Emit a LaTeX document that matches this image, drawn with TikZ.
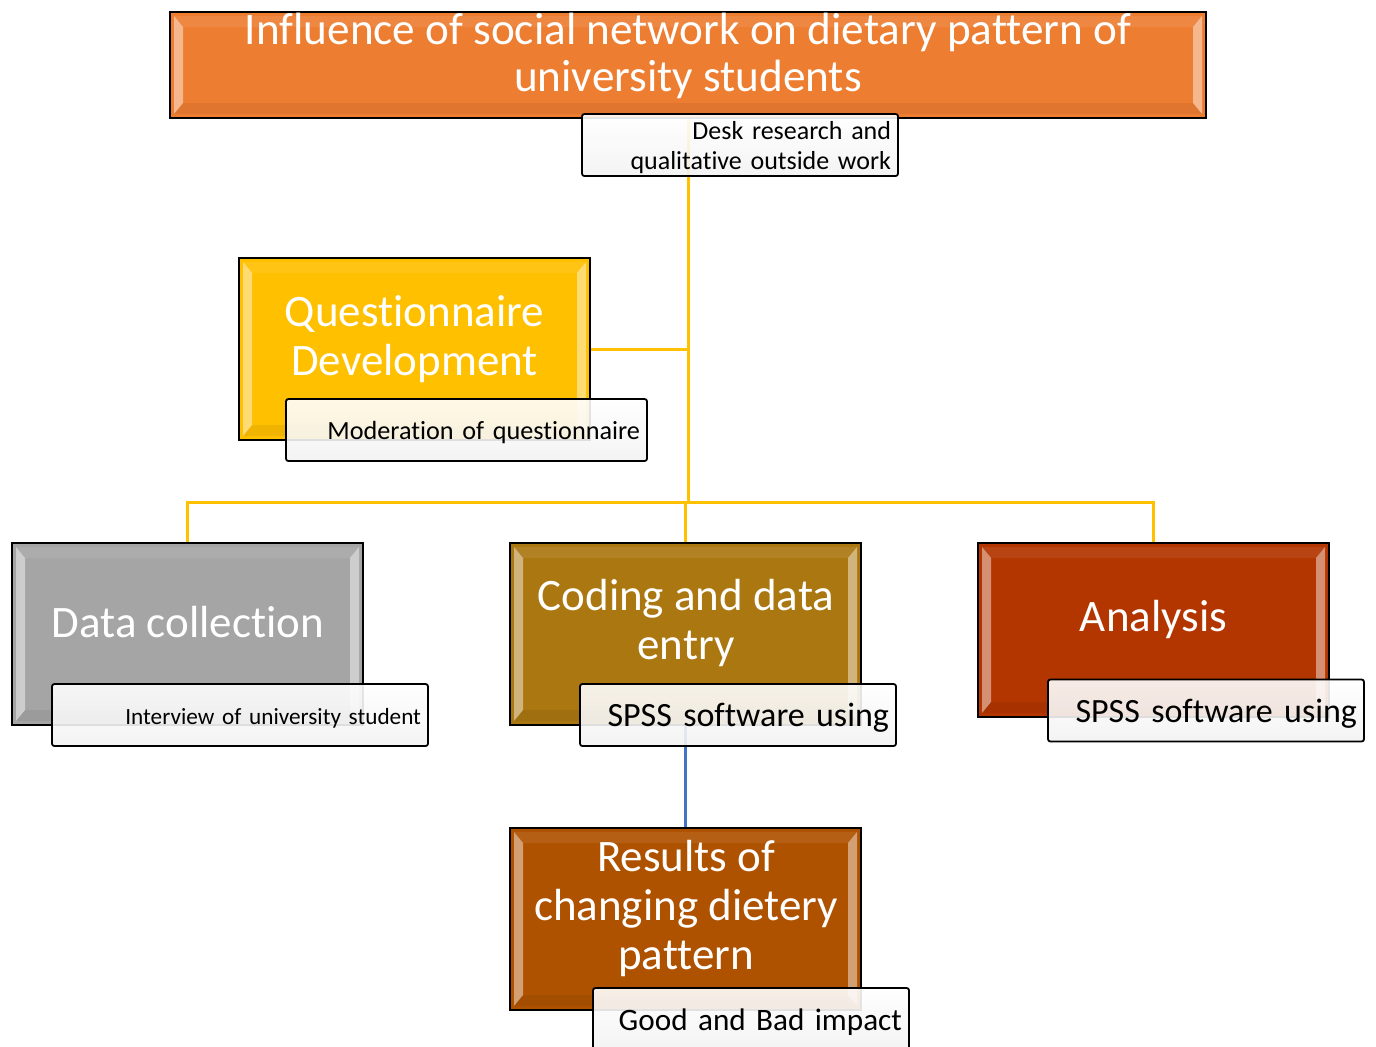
\documentclass[tikz,border=0pt]{standalone}
\usepackage{fontspec}
\setmainfont{Carlito}[Ligatures={NoCommon}]
\usetikzlibrary{calc}
\definecolor{cOrange}{HTML}{ED7D31}
\definecolor{cGold}{HTML}{FFC000}
\definecolor{cGray}{HTML}{A5A5A5}
\definecolor{cCoding}{HTML}{AB7711}
\definecolor{cAnalysis}{HTML}{B33500}
\definecolor{cResults}{HTML}{AE5200}
\definecolor{cBlue}{HTML}{4472C4}
\newcommand\lowr[1]{\raisebox{-1.5pt}[\height][\depth]{#1}}
\tikzset{
  bevel/.style={path picture={
    \fill[white,opacity=0.45]
      ($(path picture bounding box.north west)+(4,4)$) -- ($(path picture bounding box.north west)+(13,15)$)
      -- ($(path picture bounding box.south west)+(13,-15)$) -- ($(path picture bounding box.south west)+(4,-4)$) -- cycle;
    \fill[white,opacity=0.45]
      ($(path picture bounding box.north east)+(-4,4)$) -- ($(path picture bounding box.north east)+(-13,15)$)
      -- ($(path picture bounding box.south east)+(-13,-15)$) -- ($(path picture bounding box.south east)+(-4,-4)$) -- cycle;
    \fill[white,opacity=0.08]
      ($(path picture bounding box.north west)+(4,4)$) -- ($(path picture bounding box.north east)+(-4,4)$)
      -- ($(path picture bounding box.north east)+(-13,15)$) -- ($(path picture bounding box.north west)+(13,15)$) -- cycle;
    \fill[black,opacity=0.06]
      ($(path picture bounding box.south west)+(4,-4)$) -- ($(path picture bounding box.south east)+(-4,-4)$)
      -- ($(path picture bounding box.south east)+(-13,-15)$) -- ($(path picture bounding box.south west)+(13,-15)$) -- cycle;
  }},
  mainbox/.style={draw=black, line width=0.8pt, fill=#1, bevel, inner sep=0pt},
  boxtext/.style={text=white, align=center, font=\fontsize{22.5}{24.5}\selectfont, inner sep=0pt},
  lab/.style={draw=black, line width=0.9pt, rounded corners=1.2pt, top color=white, bottom color=black!5,
    fill opacity=0.9, text opacity=1, align=right, text width=#1, inner xsep=3.5pt, inner ysep=0pt, minimum height=31pt},
  conn/.style={draw=cGold, line width=1.5pt},
  bconn/.style={draw=cBlue, line width=1.2pt},
}
\begin{document}
\begin{tikzpicture}[x=0.5pt,y=-0.5pt]
\useasboundingbox (0,0) rectangle (1376,1046);
% main boxes
\node[mainbox=cOrange, minimum width=518pt, minimum height=53pt] (title) at (688,65) {};
\node[boxtext, font=\fontsize{22.6}{23.5}\selectfont] (titlet) at (688,56) {Influence of social network on dietary pattern of\\university students};
\node[mainbox=cGold, minimum width=175.5pt, minimum height=91pt] (quest) at (414.5,349) {};
\node[boxtext] (questt) at (414.5,339) {Questionnaire\\Development};
\node[mainbox=cGray, minimum width=175.5pt, minimum height=91pt] (datac) at (187.5,634) {};
\node[boxtext] (datact) at (188,622) {Data collection};
\node[mainbox=cCoding, minimum width=175.5pt, minimum height=91pt] (coding) at (685.5,634) {};
\node[boxtext] (codingt) at (686,623) {Coding and data\\entry};
\node[mainbox=cAnalysis, minimum width=175.5pt, minimum height=87pt] (analysis) at (1153.5,630) {};
\node[boxtext] (analysist) at (1153.5,619) {Analysis};
\node[mainbox=cResults, minimum width=175.5pt, minimum height=91pt] (results) at (685.5,919) {};
\node[boxtext] (resultst) at (686,908) {Results of\\changing dietery\\pattern};
% connectors
\coordinate (hub) at (688,502);
\draw[conn] (title.south) -- (hub);
\draw[conn] (quest.east) -- (quest.east -| hub);
\draw[conn] (datac.north) |- (analysis.north |- hub) -- (analysis.north);
\draw[conn] (coding.north |- hub) -- (coding.north);
\draw[bconn] (coding.south) -- (results.north);
% labels
\node[lab=151pt, font=\fontsize{13}{15}\selectfont] (desk) at (740,145) {\lowr{Desk research and}\\\lowr{qualitative outside work}};
\node[lab=173.5pt, font=\fontsize{13.1}{15}\selectfont] (moder) at (466.5,430) {\lowr{Moderation of questionnaire}};
\node[lab=181pt, font=\fontsize{11.6}{14}\selectfont] (interv) at (240,715) {\lowr{Interview of university student}};
\node[lab=151pt, font=\fontsize{17}{19}\selectfont] (spssa) at (738,715) {\lowr{SPSS software using}};
\node[lab=151pt, font=\fontsize{17}{19}\selectfont] (spssb) at (1206,710.5) {\lowr{SPSS software using}};
\node[lab=151pt, font=\fontsize{15.6}{18}\selectfont] (good) at (751,1019) {\lowr{Good and Bad impact}};
\end{tikzpicture}
\end{document}
